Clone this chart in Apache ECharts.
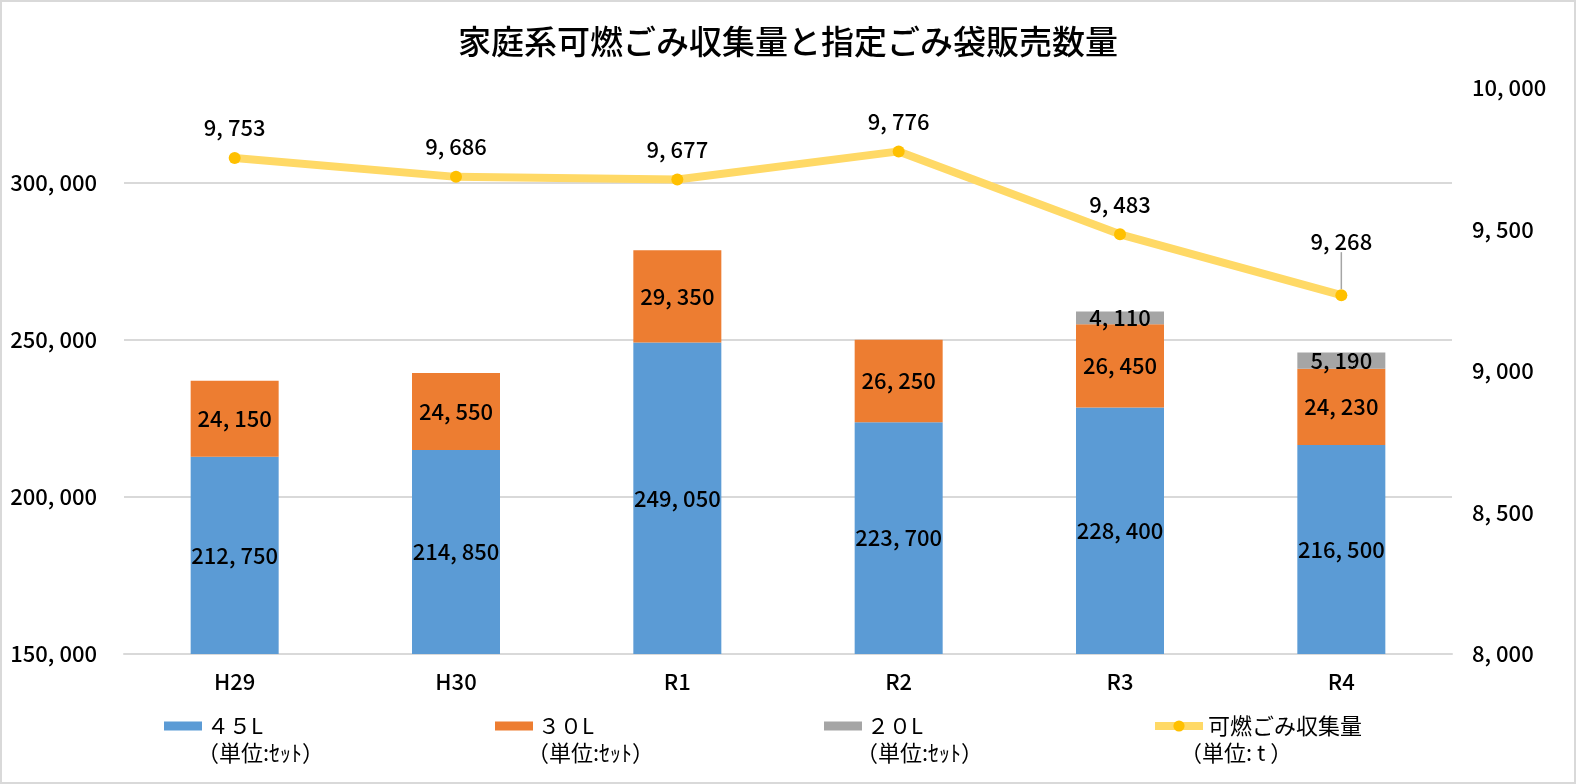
<!DOCTYPE html>
<html>
<head>
<meta charset="utf-8">
<script src="https://cdn.jsdelivr.net/npm/echarts@6/dist/echarts.min.js"></script>
<style>
  html, body { margin: 0; padding: 0; background: #fff; }
  #chart { width: 1576px; height: 784px; box-sizing: border-box; border: 2px solid #d9d9d9; }
</style>
</head>
<body>
<div id="chart"></div>
<script>
'use strict';

var categories = ['H29', 'H30', 'R1', 'R2', 'R3', 'R4'];
var bags45 = [212750, 214850, 249050, 223700, 228400, 216500];
var bags30 = [24150, 24550, 29350, 26250, 26450, 24230];
var bags20 = ['-', '-', '-', '-', 4110, 5190];
var burnable = [9753, 9686, 9677, 9776, 9483, 9268];
var seriesNames = ['４５L', '３０L', '２０L', '可燃ごみ収集量'];
var unitTexts = ['（単位:ｾｯﾄ）', '（単位:ｾｯﾄ）', '（単位:ｾｯﾄ）', '（単位: t ）'];

var FONT = "'Noto Sans CJK JP', sans-serif";
var legendLefts = [157, 488, 817, 1144];
var unitLefts = [195, 525, 854, 1178];

// 3桁区切り（元の図に合わせて「, 」）
function fmt(v) {
    return String(v).replace(/\B(?=(\d{3})+(?!\d))/g, ', ');
}

var myChart = echarts.init(document.getElementById('chart'));

var numText = { color: '#000', fontSize: 22, fontWeight: 500, fontFamily: FONT };

var barLabel = echarts.util.extend({
    show: true,
    position: 'inside',
    formatter: function(p) { return fmt(p.value); }
}, numText);

// 凡例は1項目ずつ置く
var legends = seriesNames.map(function(name, i) {
    var isLine = i === 3;
    var leg = {
        left: legendLefts[i],
        top: 708,
        itemWidth: isLine ? 48 : 38,
        itemHeight: isLine ? 14 : 9,
        textStyle: { fontSize: 22, color: '#000', fontFamily: FONT },
        data: [isLine ? {
            name: name,
            lineStyle: { width: 8, color: '#ffd966' },
            itemStyle: { color: '#ffc000' }
        } : { name: name, icon: 'rect' }]
    };
    if (isLine) {
        leg.lineStyle = { width: 8, color: '#ffd966' };
    }
    return leg;
});

// 凡例の2行目（単位）
var unitGraphics = unitTexts.map(function(t, i) {
    return {
        type: 'text',
        left: unitLefts[i],
        top: 740,
        style: { text: t, fill: '#000', font: "22px 'Noto Sans CJK JP', sans-serif" }
    };
});

var option = {
    animation: false,
    title: {
        text: '家庭系可燃ごみ収集量と指定ごみ袋販売数量',
        left: 'center',
        top: 18,
        textStyle: { fontSize: 33, fontWeight: 500, color: '#000', fontFamily: FONT }
    },
    graphic: unitGraphics,
    legend: legends,
    grid: { left: 122, right: 122, top: 86, bottom: 128 },
    xAxis: {
        type: 'category',
        data: categories,
        axisLine: { lineStyle: { color: '#d9d9d9', width: 2 } },
        axisTick: { show: false },
        axisLabel: echarts.util.extend({ margin: 17 }, numText)
    },
    yAxis: [
        {
            type: 'value',
            min: 150000,
            max: 330000,
            interval: 50000,
            axisLine: { show: false },
            axisTick: { show: false },
            axisLabel: echarts.util.extend({ margin: 27, showMaxLabel: false, formatter: fmt }, numText),
            splitLine: { showMaxLine: false, lineStyle: { color: '#d9d9d9', width: 2 } }
        },
        {
            type: 'value',
            min: 8000,
            max: 10000,
            interval: 500,
            axisLine: { show: false },
            axisTick: { show: false },
            splitLine: { show: false },
            axisLabel: echarts.util.extend({ margin: 20, formatter: fmt }, numText)
        }
    ],
    series: [
        {
            name: seriesNames[0],
            type: 'bar',
            stack: 'bags',
            barWidth: 88,
            itemStyle: { color: '#5b9bd5' },
            label: barLabel,
            data: bags45
        },
        {
            name: seriesNames[1],
            type: 'bar',
            stack: 'bags',
            itemStyle: { color: '#ed7d31' },
            label: barLabel,
            data: bags30
        },
        {
            name: seriesNames[2],
            type: 'bar',
            stack: 'bags',
            itemStyle: { color: '#a5a5a5' },
            label: barLabel,
            data: bags20
        },
        {
            name: seriesNames[3],
            type: 'line',
            yAxisIndex: 1,
            symbol: 'circle',
            symbolSize: 12,
            lineStyle: { color: '#ffd966', width: 8 },
            itemStyle: { color: '#ffc000' },
            label: echarts.util.extend({
                show: true,
                position: 'top',
                distance: 13,
                formatter: function(p) { return fmt(p.value); }
            }, numText),
            labelLayout: function(params) {
                if (params.dataIndex === burnable.length - 1) {
                    return { dy: -24 };
                }
            },
            data: burnable.map(function(v, i) {
                if (i === burnable.length - 1) {
                    return { value: v, labelLine: { show: true, lineStyle: { color: '#a5a5a5', width: 1.5 } } };
                }
                return v;
            })
        }
    ]
};

myChart.setOption(option);
</script>
</body>
</html>
